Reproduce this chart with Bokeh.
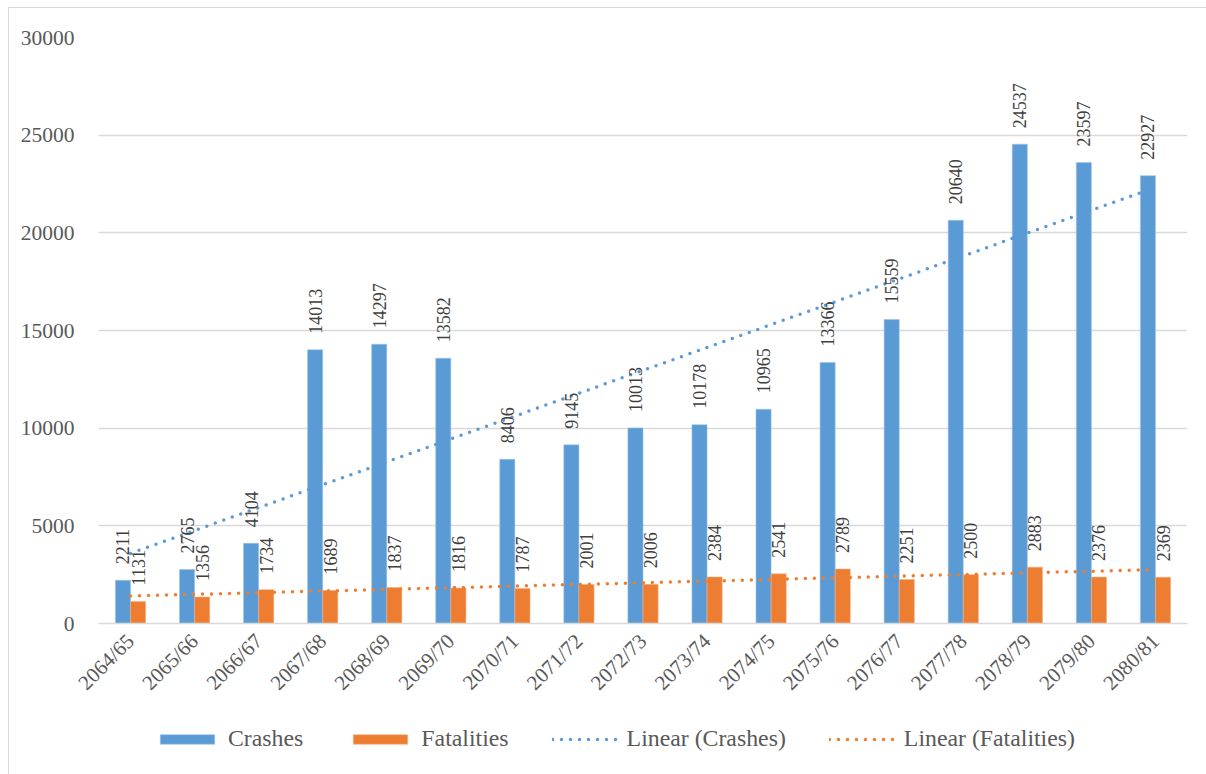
import numpy as np
from math import pi
from bokeh.plotting import figure
from bokeh.layouts import column
from bokeh.models import (FixedTicker, Legend, LegendItem,
                          ColumnDataSource, Range1d)
from bokeh.core.properties import value
from bokeh.embed import file_html
from bokeh.resources import INLINE

years = ["2064/65", "2065/66", "2066/67", "2067/68", "2068/69", "2069/70",
         "2070/71", "2071/72", "2072/73", "2073/74", "2074/75", "2075/76",
         "2076/77", "2077/78", "2078/79", "2079/80", "2080/81"]
crashes = [2211, 2765, 4104, 14013, 14297, 13582, 8406, 9145, 10013, 10178,
           10965, 13366, 15559, 20640, 24537, 23597, 22927]
fatalities = [1131, 1356, 1734, 1689, 1837, 1816, 1787, 2001, 2006, 2384,
              2541, 2789, 2251, 2500, 2883, 2376, 2369]
y_ticks = [0, 5000, 10000, 15000, 20000, 25000, 30000]

FNAME = "Times New Roman"
FONT = value(FNAME)
BLUE = "#5B9BD5"
ORANGE = "#ED7D31"
GRID = "#d9d9d9"

idx = np.arange(len(years))
off = 0.118
bw = 0.236

src = ColumnDataSource(dict(
    xb=idx - off, xo=idx + off, c=crashes, f=fatalities,
    ct=[str(v) for v in crashes], ft=[str(v) for v in fatalities]))

p = figure(width=1198, height=715, output_backend="svg", toolbar_location=None,
           x_range=Range1d(-0.5, len(years) - 0.5), y_range=Range1d(0, 30000),
           min_border_left=89, min_border_right=20, min_border_top=29,
           min_border_bottom=100)
p.outline_line_color = None
p.background_fill_color = "white"
p.border_fill_color = "white"

p.xgrid.visible = False
p.ygrid.grid_line_color = GRID
p.ygrid.grid_line_width = 1.3
p.yaxis.ticker = FixedTicker(ticks=y_ticks)
p.yaxis.axis_line_color = None
p.yaxis.major_tick_line_color = None
p.yaxis.minor_tick_line_color = None
p.yaxis.major_label_standoff = 18
p.yaxis.major_label_text_font = FNAME
p.yaxis.major_label_text_font_size = "21.5px"
p.yaxis.major_label_text_color = "#595959"

p.xaxis.ticker = FixedTicker(ticks=list(idx))
p.xaxis.major_label_overrides = {int(i): y for i, y in zip(idx, years)}
p.xaxis.axis_line_color = GRID
p.xaxis.axis_line_width = 1.3
p.xaxis.major_tick_line_color = None
p.xaxis.minor_tick_line_color = None
p.xaxis.major_label_orientation = pi / 4
p.xaxis.major_label_standoff = 8
p.xaxis.major_label_text_font = FNAME
p.xaxis.major_label_text_font_size = "21px"
p.xaxis.major_label_text_color = "#595959"

bar_b = dict(fill_color=BLUE, line_color="#9fc3e7", line_width=0.6)
bar_o = dict(fill_color=ORANGE, line_color="#f4b183", line_width=0.6)
dot_b = dict(line_color=BLUE, line_width=3.5, line_dash="0 9", line_cap="round")
dot_o = dict(line_color=ORANGE, line_width=3.5, line_dash="0 9", line_cap="round")

p.vbar(x="xb", top="c", width=bw, source=src, **bar_b)
p.vbar(x="xo", top="f", width=bw, source=src, **bar_o)

# linear trendlines (least squares of the data, as in the spreadsheet)
kc = np.polyfit(idx, crashes, 1)
kf = np.polyfit(idx, fatalities, 1)
tx = [idx[0], idx[-1]]
p.line(tx, np.polyval(kc, tx), **dot_b)
p.line(tx, np.polyval(kf, tx), **dot_o)

p.text(x="xb", y="c", text="ct", source=src, angle=pi / 2, text_align="left",
       text_baseline="middle", y_offset=-16, text_font=FONT,
       text_font_size="18px", text_color="#404040")
p.text(x="xo", y="f", text="ft", source=src, angle=pi / 2, text_align="left",
       text_baseline="middle", y_offset=-16, text_font=FONT,
       text_font_size="18px", text_color="#404040")

# legend strip below the chart (its renderers sit outside the visible range)
q = figure(width=1198, height=52, output_backend="svg", toolbar_location=None,
           x_range=Range1d(0, 1), y_range=Range1d(0, 1), min_border=0)
q.axis.visible = False
q.grid.visible = False
q.outline_line_color = None
q.border_fill_color = "white"
lb = q.vbar(x=[0.5], top=[-5], bottom=[-6], width=0.01, **bar_b)
lo = q.vbar(x=[0.5], top=[-5], bottom=[-6], width=0.01, **bar_o)
llc = q.line(x=[0.5, 0.51], y=[-5, -5], **dot_b)
llf = q.line(x=[0.5, 0.51], y=[-5, -5], **dot_o)
legend = Legend(items=[
    LegendItem(label="Crashes", renderers=[lb]),
    LegendItem(label="Fatalities", renderers=[lo]),
    LegendItem(label="Linear (Crashes)", renderers=[llc]),
    LegendItem(label="Linear (Fatalities)", renderers=[llf]),
], orientation="horizontal", location=(55, 23), padding=0, margin=0,
    spacing=43, glyph_width=68, glyph_height=12, label_standoff=7,
    label_text_font=FNAME, label_text_font_size="23.8px",
    label_text_color="#595959", border_line_color=None,
    background_fill_alpha=0, label_height=24)
q.add_layout(legend, "center")

page = column(p, q, spacing=0, margin=(7, 0, 0, 8),
              styles={"border-left": "1.5px solid #d9d9d9",
                      "border-top": "1.5px solid #d9d9d9"})

open("out.html", "w").write(file_html(page, INLINE))
